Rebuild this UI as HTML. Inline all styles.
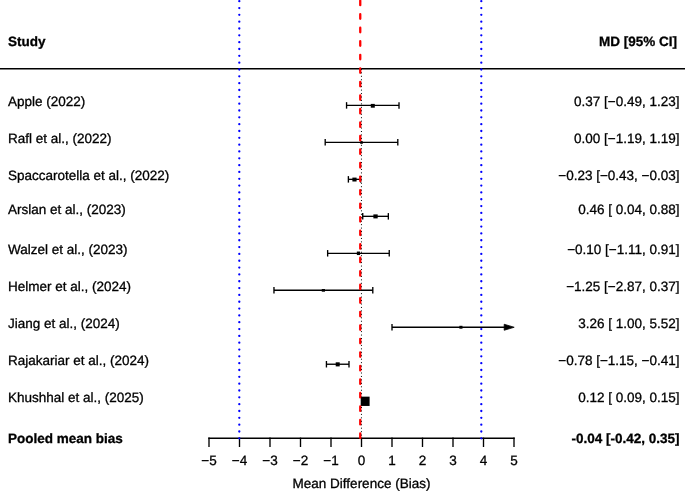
<!DOCTYPE html>
<html><head><meta charset="utf-8"><style>
html,body{margin:0;padding:0;background:#fff;}
body{width:685px;height:492px;overflow:hidden;}
svg{display:block;will-change:transform;}
text{font-family:"Liberation Sans",sans-serif;font-size:13.5px;fill:#000;white-space:pre;text-rendering:geometricPrecision;stroke:#000;stroke-width:0.3px;}
</style></head><body>
<svg width="685" height="492" viewBox="0 0 685 492">
<line x1="0" y1="68.7" x2="685" y2="68.7" stroke="#000" stroke-width="1.5"/>
<line x1="208.3" y1="438.3" x2="514.7" y2="438.3" stroke="#000" stroke-width="1.5"/>
<line x1="209.0" y1="437.6" x2="209.0" y2="447" stroke="#000" stroke-width="1.35"/>
<line x1="239.5" y1="437.6" x2="239.5" y2="447" stroke="#000" stroke-width="1.35"/>
<line x1="270.0" y1="437.6" x2="270.0" y2="447" stroke="#000" stroke-width="1.35"/>
<line x1="300.5" y1="437.6" x2="300.5" y2="447" stroke="#000" stroke-width="1.35"/>
<line x1="331.0" y1="437.6" x2="331.0" y2="447" stroke="#000" stroke-width="1.35"/>
<line x1="361.5" y1="437.6" x2="361.5" y2="447" stroke="#000" stroke-width="1.35"/>
<line x1="392.0" y1="437.6" x2="392.0" y2="447" stroke="#000" stroke-width="1.35"/>
<line x1="422.5" y1="437.6" x2="422.5" y2="447" stroke="#000" stroke-width="1.35"/>
<line x1="453.0" y1="437.6" x2="453.0" y2="447" stroke="#000" stroke-width="1.35"/>
<line x1="483.5" y1="437.6" x2="483.5" y2="447" stroke="#000" stroke-width="1.35"/>
<line x1="514.0" y1="437.6" x2="514.0" y2="447" stroke="#000" stroke-width="1.35"/>
<line x1="346.56" y1="105.40" x2="399.01" y2="105.40" stroke="#000" stroke-width="1.35"/>
<line x1="346.56" y1="102.15" x2="346.56" y2="108.65" stroke="#000" stroke-width="1.35"/>
<line x1="399.01" y1="102.15" x2="399.01" y2="108.65" stroke="#000" stroke-width="1.35"/>
<rect x="370.79" y="103.90" width="4.0" height="3.8" fill="#000"/>
<line x1="325.20" y1="142.38" x2="397.80" y2="142.38" stroke="#000" stroke-width="1.35"/>
<line x1="325.20" y1="139.12" x2="325.20" y2="145.62" stroke="#000" stroke-width="1.35"/>
<line x1="397.80" y1="139.12" x2="397.80" y2="145.62" stroke="#000" stroke-width="1.35"/>
<rect x="360.20" y="141.20" width="2.6" height="2.6" fill="#000"/>
<line x1="348.38" y1="179.35" x2="360.58" y2="179.35" stroke="#000" stroke-width="1.35"/>
<line x1="348.38" y1="176.10" x2="348.38" y2="182.60" stroke="#000" stroke-width="1.35"/>
<line x1="360.58" y1="176.10" x2="360.58" y2="182.60" stroke="#000" stroke-width="1.35"/>
<rect x="352.38" y="177.60" width="4.2" height="3.9" fill="#000"/>
<line x1="362.72" y1="216.33" x2="388.34" y2="216.33" stroke="#000" stroke-width="1.35"/>
<line x1="362.72" y1="213.08" x2="362.72" y2="219.58" stroke="#000" stroke-width="1.35"/>
<line x1="388.34" y1="213.08" x2="388.34" y2="219.58" stroke="#000" stroke-width="1.35"/>
<rect x="373.38" y="214.40" width="4.3" height="4.0" fill="#000"/>
<line x1="327.64" y1="253.30" x2="389.25" y2="253.30" stroke="#000" stroke-width="1.35"/>
<line x1="327.64" y1="250.05" x2="327.64" y2="256.55" stroke="#000" stroke-width="1.35"/>
<line x1="389.25" y1="250.05" x2="389.25" y2="256.55" stroke="#000" stroke-width="1.35"/>
<rect x="356.85" y="251.55" width="3.2" height="3.5" fill="#000"/>
<line x1="273.97" y1="290.27" x2="372.79" y2="290.27" stroke="#000" stroke-width="1.35"/>
<line x1="273.97" y1="287.02" x2="273.97" y2="293.52" stroke="#000" stroke-width="1.35"/>
<line x1="372.79" y1="287.02" x2="372.79" y2="293.52" stroke="#000" stroke-width="1.35"/>
<rect x="321.77" y="289.00" width="3.2" height="2.7" fill="#000"/>
<line x1="392.00" y1="327.25" x2="505" y2="327.25" stroke="#000" stroke-width="1.35"/>
<polygon points="504.2,324.25 514.2,327.25 504.2,330.25" fill="#000" stroke="#000" stroke-width="0.8" stroke-linejoin="round"/>
<line x1="392.00" y1="324.00" x2="392.00" y2="330.50" stroke="#000" stroke-width="1.35"/>
<rect x="459.38" y="325.80" width="3.1" height="2.9" fill="#000"/>
<line x1="326.43" y1="364.23" x2="349.00" y2="364.23" stroke="#000" stroke-width="1.35"/>
<line x1="326.43" y1="360.98" x2="326.43" y2="367.48" stroke="#000" stroke-width="1.35"/>
<line x1="349.00" y1="360.98" x2="349.00" y2="367.48" stroke="#000" stroke-width="1.35"/>
<rect x="335.71" y="362.30" width="4.0" height="4.1" fill="#000"/>
<line x1="364.25" y1="401.20" x2="366.07" y2="401.20" stroke="#000" stroke-width="1.35"/>
<line x1="364.25" y1="397.95" x2="364.25" y2="404.45" stroke="#000" stroke-width="1.35"/>
<line x1="366.07" y1="397.95" x2="366.07" y2="404.45" stroke="#000" stroke-width="1.35"/>
<rect x="360.71" y="396.65" width="8.9" height="9.3" fill="#000"/>
<line x1="239.3" y1="1.2" x2="239.3" y2="439" stroke="#0000ff" stroke-width="2.3" stroke-linecap="round" stroke-dasharray="0.01 6.82"/>
<line x1="481.3" y1="1.2" x2="481.3" y2="439" stroke="#0000ff" stroke-width="2.3" stroke-linecap="round" stroke-dasharray="0.01 6.82"/>
<line x1="360.25" y1="0.7" x2="360.25" y2="439.2" stroke="#ff0000" stroke-width="2.3" stroke-linecap="round" stroke-dasharray="4.5 9.025"/>
<line x1="361.45" y1="68.9" x2="361.45" y2="438" stroke="#000" stroke-width="1" stroke-dasharray="1 2.45"/>
<text x="209.0" y="464.5" text-anchor="middle">−5</text>
<text x="239.5" y="464.5" text-anchor="middle">−4</text>
<text x="270.0" y="464.5" text-anchor="middle">−3</text>
<text x="300.5" y="464.5" text-anchor="middle">−2</text>
<text x="331.0" y="464.5" text-anchor="middle">−1</text>
<text x="361.5" y="464.5" text-anchor="middle">0</text>
<text x="392.0" y="464.5" text-anchor="middle">1</text>
<text x="422.5" y="464.5" text-anchor="middle">2</text>
<text x="453.0" y="464.5" text-anchor="middle">3</text>
<text x="483.5" y="464.5" text-anchor="middle">4</text>
<text x="514.0" y="464.5" text-anchor="middle">5</text>
<text x="361.5" y="488.4" text-anchor="middle">Mean Difference (Bias)</text>
<text x="8.0" y="106.3">Apple (2022)</text>
<text x="679.5" y="106.3" text-anchor="end">0.37 [−0.49, 1.23]</text>
<text x="8.0" y="143.3">Rafl et al., (2022)</text>
<text x="679.5" y="143.3" text-anchor="end">0.00 [−1.19, 1.19]</text>
<text x="8.0" y="180.3">Spaccarotella et al., (2022)</text>
<text x="679.5" y="180.3" text-anchor="end">−0.23 [−0.43, −0.03]</text>
<text x="8.0" y="214.1">Arslan et al., (2023)</text>
<text x="679.5" y="214.1" text-anchor="end">0.46 [ 0.04, 0.88]</text>
<text x="8.0" y="253.9">Walzel et al., (2023)</text>
<text x="679.5" y="253.9" text-anchor="end">−0.10 [−1.11, 0.91]</text>
<text x="8.0" y="291.1">Helmer et al., (2024)</text>
<text x="679.5" y="291.1" text-anchor="end">−1.25 [−2.87, 0.37]</text>
<text x="8.0" y="328.2">Jiang et al., (2024)</text>
<text x="679.5" y="328.2" text-anchor="end">3.26 [ 1.00, 5.52]</text>
<text x="8.0" y="364.9">Rajakariar et al., (2024)</text>
<text x="679.5" y="364.9" text-anchor="end">−0.78 [−1.15, −0.41]</text>
<text x="8.0" y="402.3">Khushhal et al., (2025)</text>
<text x="679.5" y="402.3" text-anchor="end">0.12 [ 0.09, 0.15]</text>
<text x="8.0" y="46.3" font-weight="bold">Study</text>
<text x="677.0" y="46.3" font-weight="bold" text-anchor="end">MD [95% CI]</text>
<text x="8.0" y="442.8" font-weight="bold">Pooled mean bias</text>
<text x="679.5" y="442.8" font-weight="bold" text-anchor="end">-0.04 [-0.42, 0.35]</text>
</svg>
</body></html>
